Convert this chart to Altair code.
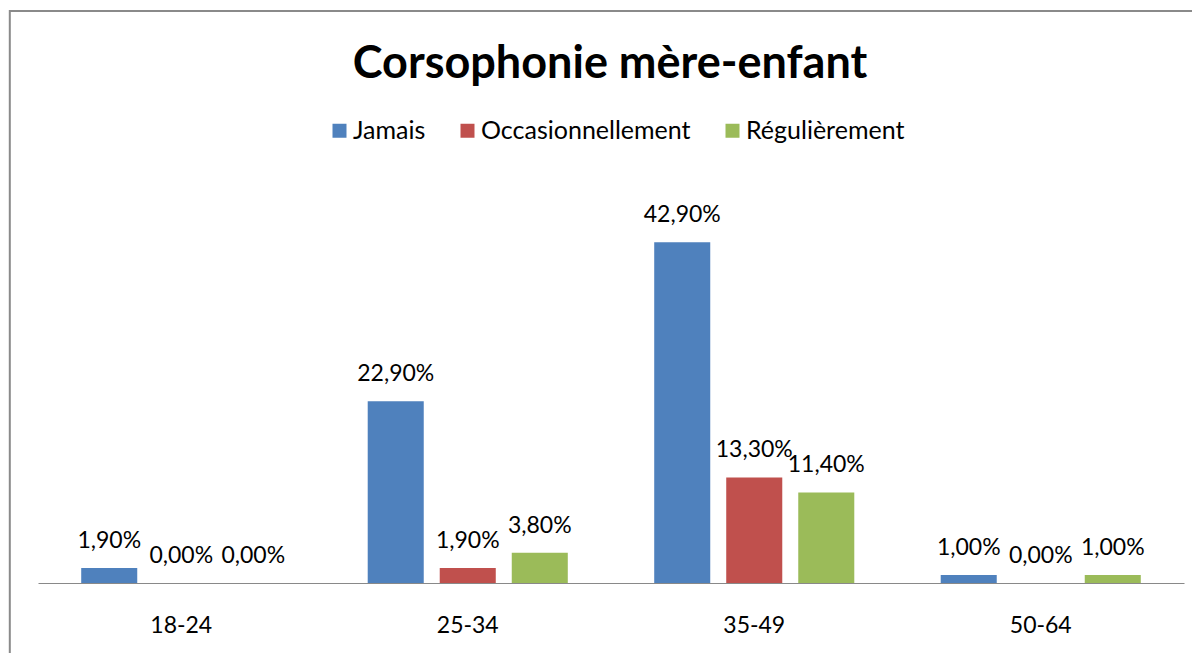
import altair as alt
import pandas as pd

title_text = "Corsophonie mère-enfant"
age_groups = ["18-24", "25-34", "35-49", "50-64"]
series = ["Jamais", "Occasionnellement", "Régulièrement"]
jamais = [1.9, 22.9, 42.9, 1.0]
occasionnellement = [0.0, 1.9, 13.3, 0.0]
regulierement = [0.0, 3.8, 11.4, 1.0]
colors = ["#4F81BD", "#C0504D", "#9BBB59"]

rows = []
for s, vals in zip(series, [jamais, occasionnellement, regulierement]):
    for a, v in zip(age_groups, vals):
        rows.append({"age": a, "serie": s, "value": v,
                     "label": f"{v:.2f}".replace(".", ",") + "%"})
df = pd.DataFrame(rows)

FONT = "Lato"
W, H = 1146, 397

x_enc = alt.X("age:N", sort=age_groups, title=None,
              scale=alt.Scale(paddingInner=0, paddingOuter=0),
              axis=alt.Axis(labelAngle=0, ticks=False, tickSize=0, labelPadding=31,
                            labelFontSize=23, labelFont=FONT, labelColor="#000000",
                            domainColor="#898989", domainWidth=1.2, grid=False))
xoff_enc = alt.XOffset("serie:N", sort=series,
                       scale=alt.Scale(paddingInner=0.222, paddingOuter=0.6))
y_enc = alt.Y("value:Q", scale=alt.Scale(domain=[0, 50], nice=False), axis=None)

base = alt.Chart(df)

bars = base.mark_bar().encode(
    x=x_enc, xOffset=xoff_enc, y=y_enc,
    color=alt.Color("serie:N", sort=series,
                    scale=alt.Scale(domain=series, range=colors),
                    legend=alt.Legend(title=None, orient="none", direction="horizontal",
                                      legendX=289, legendY=-68, columns=3,
                                      symbolType="square", symbolSize=196,
                                      symbolStrokeWidth=0, labelFontSize=25,
                                      labelFont=FONT, labelColor="#000000",
                                      labelOffset=1, columnPadding=29,
                                      labelLimit=500, padding=0)),
)

labels = base.mark_text(dy=-27, baseline="middle", fontSize=23, font=FONT,
                        color="#000000").encode(
    x=x_enc, xOffset=xoff_enc, y=y_enc, text="label:N"
)

title_df = pd.DataFrame({"t": [title_text]})
title = alt.Chart(title_df).mark_text(fontSize=45, font=FONT, fontWeight="bold",
                                      baseline="alphabetic", align="center",
                                      color="#000000").encode(
    x=alt.value(572), y=alt.value(-108), text="t:N"
)

frame = alt.Chart(pd.DataFrame({"a": [0]})).mark_rect(
    fillOpacity=0, stroke="#8a8a8a", strokeWidth=2
).encode(x=alt.value(-28.2), x2=alt.value(3000), y=alt.value(-175), y2=alt.value(3000))

chart = alt.layer(frame, bars, labels, title).properties(
    width=W, height=H,
    background="white",
    autosize=alt.AutoSizeParams(type="none"),
    padding={"left": 30, "right": 8, "top": 178, "bottom": 70},
).configure_view(strokeWidth=0)

chart.save("out.html", embed_options={"renderer": "svg", "actions": False})
